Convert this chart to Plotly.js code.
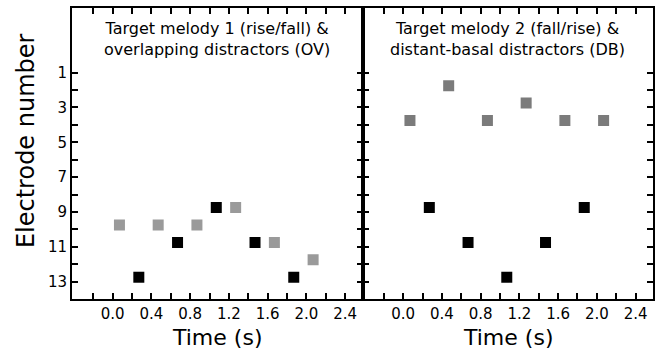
<!DOCTYPE html>
<html>
<head>
<meta charset="utf-8">
<script src="https://cdn.plot.ly/plotly-3.0.1.min.js"></script>
<style>html,body{margin:0;padding:0;background:#fff;}#chart{width:661px;height:354px;}</style>
</head>
<body>
<div id="chart"></div>
<script>
// Data (time in s, electrode number)
const leftTargetTime = [0.27, 0.67, 1.07, 1.47, 1.87];
const leftTargetElec = [12.75, 10.75, 8.75, 10.75, 12.75];
const leftDistTime = [0.07, 0.47, 0.87, 1.27, 1.67, 2.07];
const leftDistElec = [9.75, 9.75, 9.75, 8.75, 10.75, 11.75];

const rightTargetTime = [0.27, 0.67, 1.07, 1.47, 1.87];
const rightTargetElec = [8.75, 10.75, 12.75, 10.75, 8.75];
const rightDistTime = [0.07, 0.47, 0.87, 1.27, 1.67, 2.07];
const rightDistElec = [3.75, 1.75, 3.75, 2.75, 3.75, 3.75];

const panelTitles = [
  "Target melody 1 (rise/fall) &<br>overlapping distractors (OV)",
  "Target melody 2 (fall/rise) &<br>distant-basal distractors (DB)"
];
const xTickVals = [-0.2, 0.0, 0.2, 0.4, 0.6, 0.8, 1.0, 1.2, 1.4, 1.6, 1.8, 2.0, 2.2, 2.4];
const xTickText = ["", "0.0", "", "0.4", "", "0.8", "", "1.2", "", "1.6", "", "2.0", "", "2.4"];
const yTickVals = [1, 2, 3, 4, 5, 6, 7, 8, 9, 10, 11, 12, 13];
const yTickText = ["1", "", "3", "", "5", "", "7", "", "9", "", "11", "", "13"];
const xTitle = "Time (s)";
const yTitle = "Electrode number";

const FONT = "DejaVu Sans, sans-serif";
const sq = (x, y, color, xa, ya) => ({
  x: x, y: y, xaxis: xa, yaxis: ya, type: "scatter", mode: "markers",
  marker: {symbol: "square", size: 11, color: color, line: {width: 0}},
  showlegend: false, hoverinfo: "skip"
});

const data = [
  sq(leftDistTime, leftDistElec, "#9a9a9a", "x", "y"),
  sq(leftTargetTime, leftTargetElec, "#000000", "x", "y"),
  sq(rightDistTime, rightDistElec, "#7b7b7b", "x2", "y2"),
  sq(rightTargetTime, rightTargetElec, "#000000", "x2", "y2")
];

const xBase = {
  range: [-0.42, 2.58], showgrid: false, zeroline: false,
  showline: true, linecolor: "#000", linewidth: 2, mirror: "ticks",
  ticks: "inside", ticklen: 6, tickwidth: 2, tickcolor: "#000",
  tickmode: "array", tickvals: xTickVals, ticktext: xTickText,
  tickfont: {family: FONT, size: 15, color: "#000"}
};
const yBase = {
  range: [14, -2.71], showgrid: false, zeroline: false,
  showline: true, linecolor: "#000", linewidth: 2, mirror: "ticks",
  ticks: "inside", ticklen: 6, tickwidth: 2, tickcolor: "#000",
  tickmode: "array", tickvals: yTickVals, ticktext: yTickText,
  tickfont: {family: FONT, size: 15, color: "#000"}
};

const layout = {
  width: 661, height: 354,
  margin: {l: 72, r: 8, t: 8, b: 55},
  paper_bgcolor: "#fff", plot_bgcolor: "#fff",
  xaxis: Object.assign({}, xBase, {domain: [0, 0.5], anchor: "y"}),
  xaxis2: Object.assign({}, xBase, {domain: [0.5, 1], anchor: "y2"}),
  yaxis: Object.assign({}, yBase, {domain: [0, 1], anchor: "x"}),
  yaxis2: Object.assign({}, yBase, {domain: [0, 1], anchor: "x2", showticklabels: false}),
  annotations: [
    {text: panelTitles[0], xref: "paper", yref: "paper", x: 0.25, y: 0.893,
     xanchor: "center", yanchor: "middle", showarrow: false,
     font: {family: FONT, size: 16, color: "#000"}},
    {text: panelTitles[1], xref: "paper", yref: "paper", x: 0.75, y: 0.893,
     xanchor: "center", yanchor: "middle", showarrow: false,
     font: {family: FONT, size: 16, color: "#000"}},
    {text: xTitle, xref: "paper", yref: "paper", x: 0.25, y: -0.134,
     xanchor: "center", yanchor: "middle", showarrow: false,
     font: {family: FONT, size: 22, color: "#000"}},
    {text: xTitle, xref: "paper", yref: "paper", x: 0.75, y: -0.134,
     xanchor: "center", yanchor: "middle", showarrow: false,
     font: {family: FONT, size: 22, color: "#000"}},
    {text: yTitle, xref: "paper", yref: "paper", x: -0.079, y: 0.543,
     xanchor: "center", yanchor: "middle", showarrow: false, textangle: -90,
     font: {family: FONT, size: 24, color: "#000"}}
  ]
};

Plotly.newPlot("chart", data, layout, {staticPlot: true, displayModeBar: false});
</script>
</body>
</html>
